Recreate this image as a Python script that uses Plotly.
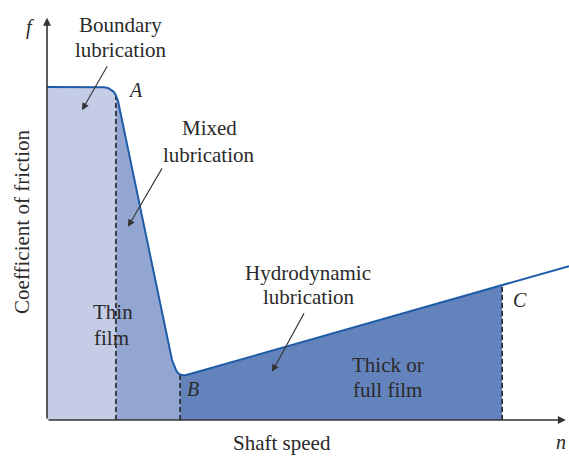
import numpy as np
import plotly.graph_objects as go

# Stribeck curve (coefficient of friction vs shaft speed), arbitrary units 0-100
curve_x = [0, 10.15, 10.92, 11.69, 12.26, 12.74, 13.12, 13.41, 13.60,
           23.95, 24.33, 24.71, 25.10, 25.48, 26.05, 26.63, 27.39, 100]
curve_y = [82.2, 82.2, 82.15, 81.98, 81.6, 81.1, 80.4, 79.5, 78.8,
           14.8, 13.3, 12.35, 11.6, 11.23, 11.06, 11.1, 11.36, 38.0]

# regime boundaries: A, B, C
bound_x = [0, 13.2, 25.5, 87.2]
region_colors = ["#c5cce6", "#93a6d2", "#6483bd"]

FONT = "Liberation Serif"
TXT = "#2a2a2a"
FS = 21

fig = go.Figure()

cx = np.array(curve_x)
cy = np.array(curve_y)
for i in range(3):
    a, b = bound_x[i], bound_x[i + 1]
    inside = (cx > a) & (cx < b)
    xs = np.concatenate([[a], cx[inside], [b]])
    ys = np.concatenate([[np.interp(a, cx, cy)], cy[inside], [np.interp(b, cx, cy)]])
    fig.add_trace(go.Scatter(x=xs, y=ys, mode="lines", line=dict(width=0),
                             fill="tozeroy", fillcolor=region_colors[i],
                             hoverinfo="skip", showlegend=False))

for b in bound_x[1:]:
    fig.add_trace(go.Scatter(x=[b, b], y=[0, float(np.interp(b, cx, cy))], mode="lines",
                             line=dict(color="#222222", width=1.6, dash="5px,3px"),
                             hoverinfo="skip", showlegend=False))

fig.add_trace(go.Scatter(x=curve_x, y=curve_y, mode="lines",
                         line=dict(color="#1f5ca8", width=2),
                         hoverinfo="skip", showlegend=False))

ann = []
# axes with arrowheads
ann.append(dict(x=0, y=99.3, ax=0, ay=0, xref="x", yref="y", axref="x", ayref="y",
                text="", showarrow=True, arrowhead=2, arrowsize=1, arrowwidth=1.6,
                arrowcolor="#333333"))
ann.append(dict(x=99.4, y=0, ax=0, ay=0, xref="x", yref="y", axref="x", ayref="y",
                text="", showarrow=True, arrowhead=2, arrowsize=1, arrowwidth=1.6,
                arrowcolor="#333333"))

# text lines: (text, x, y) in axis units (0-100), placed via paper coords
labels = [
    ("Boundary", 14.0, 97.5),
    ("lubrication", 14.0, 91.4),
    ("Mixed", 31.2, 72.1),
    ("lubrication", 30.9, 65.4),
    ("Thin", 12.6, 26.7),
    ("film", 12.3, 20.2),
    ("Hydrodynamic", 50.0, 36.3),
    ("lubrication", 50.0, 30.4),
    ("Thick or", 65.3, 13.6),
    ("full film", 65.3, 7.4),
    ("Shaft speed", 45.0, -5.7),
]
for t, x, y in labels:
    ann.append(dict(x=x / 100, y=y / 100, xref="paper", yref="paper", text=t,
                    showarrow=False, font=dict(family=FONT, size=FS, color=TXT),
                    xanchor="center", yanchor="middle"))

letters = [
    ("A", 16.9, 81.5),
    ("B", 28.0, 7.7),
    ("C", 90.6, 29.6),
    ("f", -3.3, 96.8),
    ("n", 98.4, -5.4),
]
for t, x, y in letters:
    ann.append(dict(x=x / 100, y=y / 100, xref="paper", yref="paper",
                    text="<i>" + t + "</i>", showarrow=False,
                    font=dict(family=FONT, size=20, color=TXT),
                    xanchor="center", yanchor="middle"))

ann.append(dict(x=-0.048, y=0.489, xref="paper", yref="paper",
                text="Coefficient of friction", showarrow=False, textangle=-90,
                font=dict(family=FONT, size=FS, color=TXT),
                xanchor="center", yanchor="middle"))

# pointer arrows (head x, head y, tail x, tail y)
pointers = [
    (6.7, 76.5, 11.7, 87.7),
    (15.5, 47.7, 22.2, 62.5),
    (43.1, 11.9, 49.4, 26.7),
]
for hx, hy, tx, ty in pointers:
    ann.append(dict(x=hx, y=hy, ax=tx, ay=ty, xref="x", yref="y", axref="x", ayref="y",
                    text="", showarrow=True, arrowhead=2, arrowsize=1.3, arrowwidth=1.1,
                    arrowcolor="#333333"))

fig.update_layout(
    width=569, height=457,
    margin=dict(l=47, r=0, t=15, b=37),
    plot_bgcolor="white", paper_bgcolor="white",
    xaxis=dict(range=[0, 100], visible=False, fixedrange=True),
    yaxis=dict(range=[0, 100], visible=False, fixedrange=True),
    annotations=ann,
    showlegend=False,
)

fig.write_html("out.html", config={"displayModeBar": False},
               post_script="document.body.style.margin='0';document.body.style.overflow='hidden';")
